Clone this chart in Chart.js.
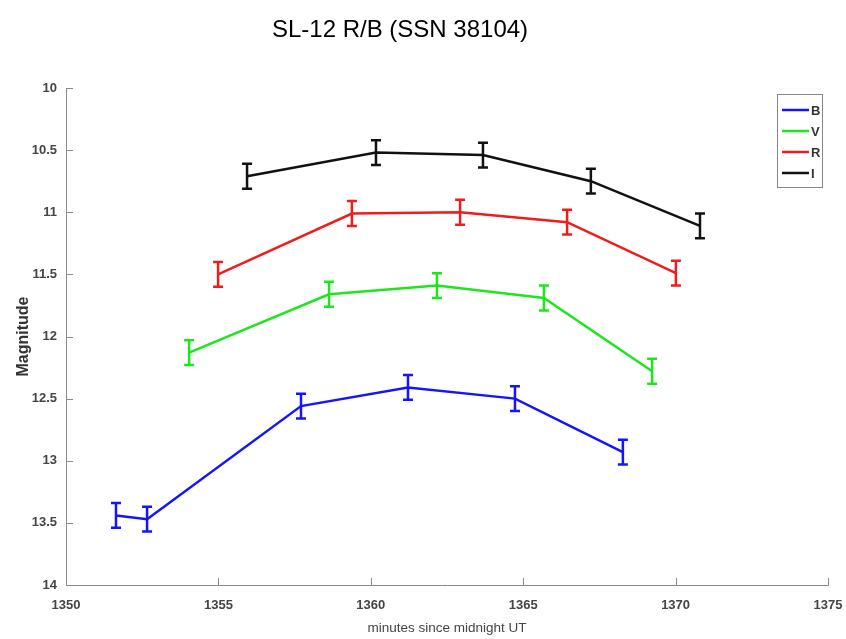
<!DOCTYPE html>
<html><head><meta charset="utf-8">
<script src="https://cdn.jsdelivr.net/npm/chart.js@4.4.0/dist/chart.umd.min.js"></script>
<style>html,body{margin:0;padding:0;background:#fff;}#wrap{width:846px;height:639px;}</style>
</head><body><div id="wrap"><canvas id="c" width="846" height="639"></canvas></div>
<script>
const chartTitle = "SL-12 R/B (SSN 38104)";
const xTitle = "minutes since midnight UT";
const yTitle = "Magnitude";
const seriesNames = ["B", "V", "R", "I"];
const bX = [1351.64, 1352.66, 1357.71, 1361.22, 1364.73, 1368.27];
const bY = [13.44, 13.47, 12.56, 12.41, 12.50, 12.93];
const bErr = [0.1, 0.1, 0.1, 0.1, 0.1, 0.1];
const vX = [1354.04, 1358.63, 1362.17, 1365.68, 1369.23];
const vY = [12.13, 11.66, 11.59, 11.69, 12.28];
const vErr = [0.1, 0.1, 0.1, 0.1, 0.1];
const rX = [1354.99, 1359.38, 1362.93, 1366.44, 1370.01];
const rY = [11.50, 11.01, 11.00, 11.08, 11.49];
const rErr = [0.1, 0.1, 0.1, 0.1, 0.1];
const iX = [1355.94, 1360.17, 1363.68, 1367.22, 1370.80];
const iY = [10.71, 10.52, 10.54, 10.75, 11.11];
const iErr = [0.1, 0.1, 0.1, 0.1, 0.1];
const xMin = 1350, xMax = 1375, xStep = 5;
const yMin = 10, yMax = 14, yStep = 0.5;

const colors = ["#1414ff", "#1ee61e", "#f01c1c", "#111111"];
const xs = [bX, vX, rX, iX], ys = [bY, vY, rY, iY], errs = [bErr, vErr, rErr, iErr];
const SANS = '"Liberation Sans", Arial, sans-serif';

const datasets = seriesNames.map((n, k) => ({
  label: n,
  data: xs[k].map((x, j) => ({x: x, y: ys[k][j]})),
  errors: errs[k],
  borderColor: colors[k],
  backgroundColor: colors[k],
  borderWidth: 2.5,
  pointRadius: 0,
  tension: 0,
  fill: false
}));

const errorBars = {
  id: 'errorBars',
  afterDatasetsDraw(chart) {
    const ctx = chart.ctx, xs_ = chart.scales.x, ys_ = chart.scales.y;
    ctx.save();
    chart.data.datasets.forEach(ds => {
      ctx.strokeStyle = ds.borderColor;
      ctx.lineWidth = 2.5;
      ds.data.forEach((p, j) => {
        const e = ds.errors[j];
        const px = xs_.getPixelForValue(p.x);
        const y1 = ys_.getPixelForValue(p.y - e), y2 = ys_.getPixelForValue(p.y + e);
        ctx.beginPath();
        ctx.moveTo(px, y1); ctx.lineTo(px, y2);
        ctx.moveTo(px - 5, y1); ctx.lineTo(px + 5, y1);
        ctx.moveTo(px - 5, y2); ctx.lineTo(px + 5, y2);
        ctx.stroke();
      });
    });
    ctx.restore();
  }
};

const innerTicks = {
  id: 'innerTicks',
  afterDraw(chart) {
    const ctx = chart.ctx, a = chart.chartArea;
    ctx.save();
    ctx.strokeStyle = '#8a8a8a';
    ctx.lineWidth = 1;
    chart.scales.y.ticks.forEach(t => {
      const py = Math.round(chart.scales.y.getPixelForValue(t.value)) + 0.5;
      ctx.beginPath(); ctx.moveTo(a.left, py); ctx.lineTo(a.left + 7, py); ctx.stroke();
    });
    chart.scales.x.ticks.forEach(t => {
      const px = Math.round(chart.scales.x.getPixelForValue(t.value)) + 0.5;
      ctx.beginPath(); ctx.moveTo(px, a.bottom); ctx.lineTo(px, a.bottom - 7); ctx.stroke();
    });
    ctx.restore();
  }
};

const titlePlugin = {
  id: 'topTitle',
  afterDraw(chart) {
    const ctx = chart.ctx;
    ctx.save();
    ctx.fillStyle = '#000';
    ctx.font = '24px ' + SANS;
    ctx.textAlign = 'center';
    ctx.textBaseline = 'middle';
    ctx.fillText(chartTitle, 400, 30);
    ctx.restore();
  }
};

const boxLegend = {
  id: 'boxLegend',
  afterDraw(chart) {
    const ctx = chart.ctx;
    const left = 777, top = 94, w = 45, h = 93;
    ctx.save();
    ctx.fillStyle = '#fff';
    ctx.fillRect(left, top, w, h);
    ctx.strokeStyle = '#888';
    ctx.lineWidth = 1;
    ctx.strokeRect(left + 0.5, top + 0.5, w, h);
    ctx.font = 'bold 13px ' + SANS;
    ctx.textBaseline = 'middle';
    chart.data.datasets.forEach((ds, k) => {
      const cy = top + 16 + k * 21;
      ctx.strokeStyle = ds.borderColor;
      ctx.lineWidth = 2.5;
      ctx.beginPath(); ctx.moveTo(left + 5, cy); ctx.lineTo(left + 32, cy); ctx.stroke();
      ctx.fillStyle = '#333';
      ctx.fillText(ds.label, left + 34, cy + 1);
    });
    ctx.restore();
  }
};

new Chart(document.getElementById('c'), {
  type: 'line',
  data: { datasets: datasets },
  options: {
    responsive: false,
    animation: false,
    layout: { padding: { left: 0, right: 18, top: 88, bottom: 0 } },
    plugins: {
      legend: { display: false },
      tooltip: { enabled: false },
      title: { display: false }
    },
    scales: {
      x: {
        type: 'linear', min: xMin, max: xMax,
        grid: { display: false, drawTicks: false },
        border: { display: true, color: '#8a8a8a', width: 1 },
        ticks: { stepSize: xStep, color: '#444', padding: 13,
          callback: v => String(v),
          font: { family: SANS, size: 13, weight: 'bold' } },
        title: { display: true, text: xTitle, color: '#444', padding: { top: 0, bottom: 3 },
          font: { family: SANS, size: 13.5 } },
        afterFit(s) { s.height = 54; s.paddingRight = 0; s.paddingLeft = 0; }
      },
      y: {
        type: 'linear', min: yMin, max: yMax, reverse: true,
        grid: { display: false, drawTicks: false },
        border: { display: true, color: '#8a8a8a', width: 1 },
        ticks: { stepSize: yStep, color: '#444', padding: 9,
          callback: v => String(v),
          font: { family: SANS, size: 13, weight: 'bold' } },
        title: { display: true, text: yTitle, color: '#333', padding: { top: 14, bottom: 0 },
          font: { family: SANS, size: 16, weight: 'bold' } },
        afterFit(s) { s.width = 66; s.paddingTop = 0; s.paddingBottom = 0; }
      }
    }
  },
  plugins: [errorBars, innerTicks, titlePlugin, boxLegend]
});
</script></body></html>
